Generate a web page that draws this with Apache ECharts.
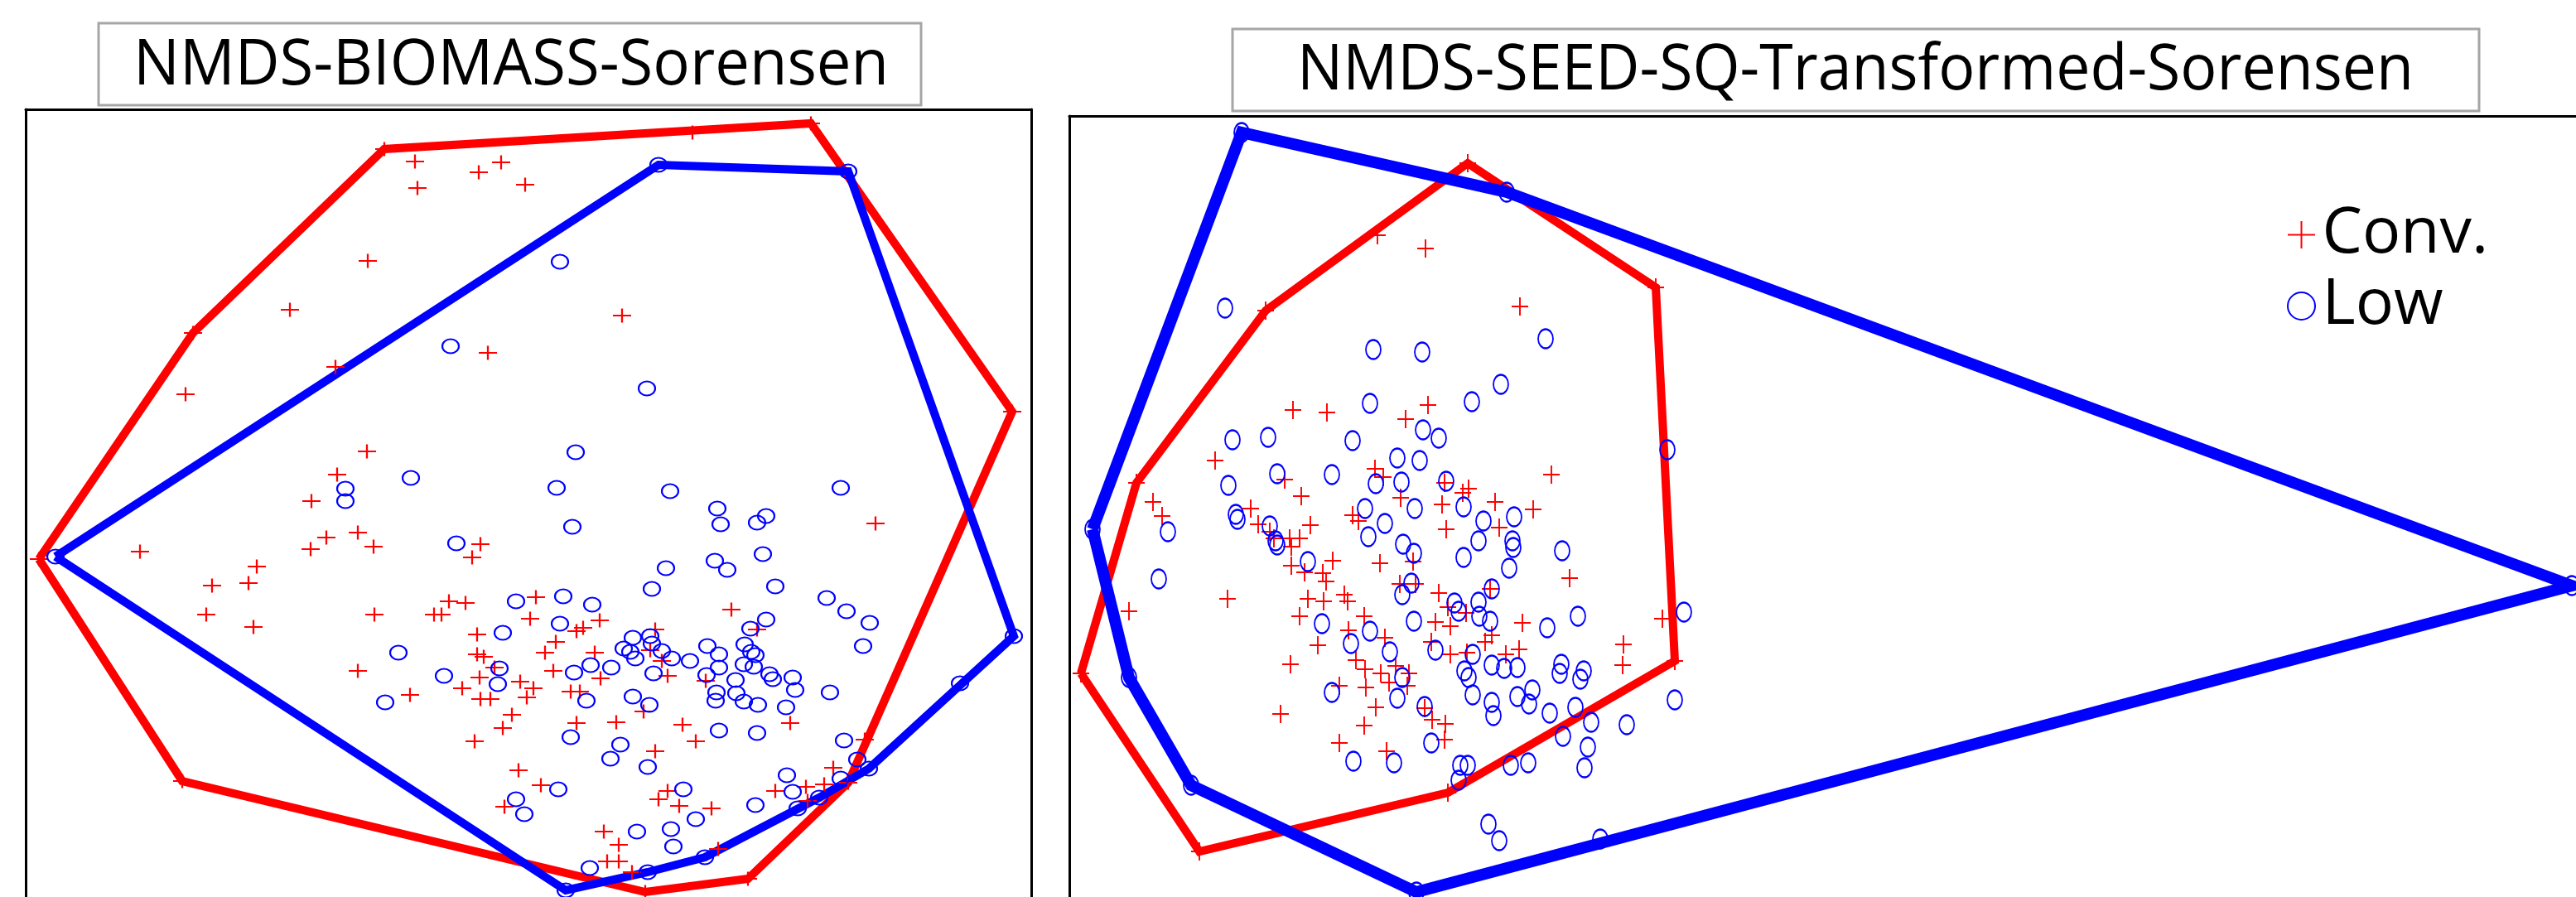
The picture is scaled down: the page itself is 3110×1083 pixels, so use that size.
<!DOCTYPE html>
<html>
<head>
<meta charset="utf-8">
<title>NMDS ordinations</title>
<script src="https://cdn.jsdelivr.net/npm/echarts@6/dist/echarts.min.js"></script>
<style>
  html, body { margin: 0; padding: 0; background: #fff; }
  #chart { width: 3110px; height: 1083px; }
</style>
</head>
<body>
<div id="chart"></div>
<script>
// Panel titles and group names
const titleBiomass = 'NMDS-BIOMASS-Sorensen';
const titleSeed = 'NMDS-SEED-SQ-Transformed-Sorensen';
const groupNames = ['Conv.', 'Low'];

// NMDS scores (axis 1, axis 2) of plots, biomass ordination
const convBiomass = [
  [464,180],[501,195],[605,196],[578,208],[504,227],[634,223],[444,315],[350,374],[233,402],[405,443],
  [224,476],[589,426],[443,545],[407,573],[376,605],[836,160],[979,149],[751,381],[1222,497],[394,649],
  [432,643],[451,660],[375,663],[580,657],[570,673],[169,666],[310,684],[256,707],[300,704],[249,742],
  [306,757],[452,742],[542,726],[562,728],[524,742],[533,742],[640,747],[576,766],[576,790],[584,793],
  [597,806],[432,810],[579,818],[558,831],[495,839],[580,844],[592,844],[628,823],[636,842],[618,863],
  [607,879],[573,895],[626,930],[609,974],[220,943],[47,675],[1057,632],[647,721],[883,736],[696,762],
  [704,758],[724,749],[791,760],[914,760],[671,775],[658,788],[718,788],[785,785],[799,798],[668,810],
  [725,819],[806,816],[852,822],[644,831],[689,835],[700,835],[777,859],[696,873],[744,872],[824,875],
  [954,873],[840,895],[791,907],[653,948],[1044,893],[1006,927],[995,947],[1024,945],[973,950],[936,955],
  [806,955],[795,965],[975,967],[820,973],[859,976],[729,1004],[747,1020],[733,1040],[747,1040],[763,1053],
  [867,1025],[903,1061],[779,1077]
];
const lowBiomass = [
  [795,199],[1024,207],[544,418],[496,577],[417,590],[417,605],[676,316],[781,469],[695,546],[672,589],
  [809,593],[1015,589],[551,656],[623,726],[607,764],[481,788],[603,807],[536,816],[601,826],[465,848],
  [623,965],[633,983],[67,672],[691,636],[866,614],[870,633],[925,623],[914,631],[921,669],[863,677],
  [878,688],[804,686],[787,711],[936,708],[998,722],[1022,738],[1050,752],[1042,780],[680,720],[715,730],
  [676,753],[925,748],[906,759],[764,770],[785,768],[787,777],[753,783],[761,787],[767,795],[799,786],
  [811,795],[833,798],[854,780],[868,790],[899,778],[907,787],[912,791],[713,803],[738,806],[693,812],
  [789,813],[868,806],[898,802],[910,805],[853,815],[929,814],[933,820],[957,818],[960,833],[888,821],
  [865,836],[864,846],[889,837],[898,847],[915,851],[949,854],[1002,836],[764,841],[708,846],[784,851],
  [689,890],[749,899],[737,916],[782,926],[868,882],[914,885],[1019,894],[1035,917],[1049,928],[1015,940],
  [950,936],[957,956],[989,963],[963,976],[912,972],[825,953],[840,989],[674,953],[769,1004],[810,1001],
  [813,1022],[712,1048],[782,1053],[851,1035],[683,1075],[1159,825],[1224,768]
];

// NMDS scores of plots, seed-bank ordination
const convSeed = [
  [1772,197],[1663,284],[1721,300],[1528,375],[1835,370],[1999,347],[1561,495],[1602,498],[1724,489],[1697,506],
  [1467,556],[1372,583],[1660,566],[1670,576],[1551,579],[1571,599],[1744,583],[1773,590],[1766,595],[1691,601],
  [1741,609],[1805,606],[1392,606],[1403,623],[1510,614],[1519,633],[1533,642],[1633,622],[1640,629],[1582,634],
  [1746,639],[1538,650],[1557,650],[1569,650],[1559,660],[1609,677],[1559,683],[1575,691],[1597,692],[1601,702],
  [1666,680],[1706,678],[1690,705],[1709,705],[1810,637],[1873,573],[1851,615],[1895,698],[1482,723],[1363,738],
  [1579,723],[1598,726],[1623,718],[1627,726],[1569,744],[1647,744],[1628,761],[1591,779],[1672,770],[1558,802],
  [1637,797],[1648,808],[1667,813],[1685,804],[1701,813],[1677,824],[1699,828],[1617,828],[1649,830],[1661,854],
  [1546,862],[1647,876],[1617,897],[1674,907],[1720,855],[1729,869],[1745,874],[1744,893],[1737,716],[1748,733],
  [1733,751],[1751,756],[1770,740],[1728,775],[1751,790],[1771,788],[1793,775],[1801,767],[1799,711],[1838,752],
  [1834,784],[1818,790],[1960,778],[1959,803],[2007,747],[1305,813],[1448,1028],[1748,957],[2022,798]
];
const lowSeed = [
  [1499,160],[1819,232],[3105,707],[1710,1077],[1438,948],[1363,818],[1319,639],[1479,372],[1658,422],[1717,425],
  [1866,409],[1812,464],[1654,487],[1777,485],[1488,531],[1531,528],[1633,532],[1718,519],[1737,529],[1687,553],
  [1714,556],[2013,543],[1542,572],[1608,573],[1661,584],[1692,582],[1746,581],[1483,586],[1648,614],[1708,614],
  [1767,612],[1492,621],[1494,627],[1533,635],[1672,632],[1791,629],[1828,624],[1410,642],[1652,648],[1540,653],
  [1542,658],[1694,657],[1707,668],[1785,653],[1767,673],[1579,678],[1826,653],[1827,661],[1886,665],[1822,686],
  [1399,699],[1704,704],[1801,711],[1596,753],[1654,762],[1631,777],[1678,787],[1693,818],[1608,836],[1687,843],
  [1707,750],[1693,718],[1720,853],[1728,897],[1634,919],[1683,921],[1733,785],[1756,728],[1761,738],[1785,727],
  [1786,744],[1799,750],[1778,790],[1768,810],[1773,818],[1778,839],[1801,848],[1803,864],[1801,803],[1763,924],
  [1772,924],[1761,942],[1797,995],[1810,1015],[1868,758],[1905,744],[2033,739],[1816,807],[1832,806],[1885,802],
  [1883,813],[1912,810],[1908,820],[1832,841],[1850,833],[1846,850],[1871,861],[1902,854],[1921,872],[1964,875],
  [2022,845],[1887,889],[1917,902],[1913,927],[1824,924],[1845,921],[1932,1013]
];

// Convex hull (monotone chain), returned closed so the line series draws a polygon
function convexHull(points) {
  const p = points.slice().sort((a, b) => a[0] - b[0] || a[1] - b[1]);
  const cross = (o, a, b) => (a[0] - o[0]) * (b[1] - o[1]) - (a[1] - o[1]) * (b[0] - o[0]);
  const lower = [];
  for (const q of p) {
    while (lower.length >= 2 && cross(lower[lower.length - 2], lower[lower.length - 1], q) <= 0) lower.pop();
    lower.push(q);
  }
  const upper = [];
  for (let i = p.length - 1; i >= 0; i--) {
    const q = p[i];
    while (upper.length >= 2 && cross(upper[upper.length - 2], upper[upper.length - 1], q) <= 0) upper.pop();
    upper.push(q);
  }
  lower.pop(); upper.pop();
  const h = lower.concat(upper);
  h.push(h[0]);
  return h;
}

const RED = '#ff0000';
const BLUE = '#0000ff';
const PLUS = 'path://M0,1L2,1M1,0L1,2';
const RING = 'path://M1,0A1,1,0,1,1,-1,0A1,1,0,1,1,1,0Z';
const FONT = '"Open Sans", "Noto Sans", sans-serif';

// Condense title text horizontally to the width of its box
const measureCtx = document.createElement('canvas').getContext('2d');
function textWidth(text, size) {
  measureCtx.font = size + 'px ' + FONT;
  return measureCtx.measureText(text).width;
}
function titleGraphic(text, box, textLeft, textRight, midY, size) {
  const s = (textRight - textLeft) / textWidth(text, size);
  return [
    { type: 'rect', shape: box, style: { fill: '#fff', stroke: '#a6a6a6', lineWidth: 3 }, z: 10 },
    { type: 'text', x: textLeft, y: midY, scaleX: s, z: 11,
      style: { text: text, fontSize: size, fontFamily: FONT, fill: '#000', align: 'left', verticalAlign: 'middle' } }
  ];
}

function scatter(name, data, idx, symbol, size, color) {
  return {
    type: 'scatter', name: name, data: data, xAxisIndex: idx, yAxisIndex: idx,
    symbol: symbol, symbolSize: size, z: 4, silent: true,
    itemStyle: { color: 'rgba(0,0,0,0)', borderColor: color, borderWidth: 2, opacity: 1 }
  };
}
function hullLine(name, data, idx, color, width, z) {
  return {
    type: 'line', name: name, data: convexHull(data), xAxisIndex: idx, yAxisIndex: idx,
    symbol: 'none', z: z, silent: true, clip: false,
    lineStyle: { color: color, width: width, join: 'miter', miterLimit: 4 }
  };
}

// Axes carry only the black frame lines of each panel
const frameLine = { show: true, onZero: false, lineStyle: { color: '#000', width: 3 } };
function frameAxis(extra) {
  return Object.assign({
    type: 'value', axisLine: frameLine, axisTick: { show: false },
    axisLabel: { show: false }, splitLine: { show: false }
  }, extra);
}

const chart = echarts.init(document.getElementById('chart'), null, { renderer: 'canvas' });
chart.setOption({
  animation: false,
  backgroundColor: '#ffffff',
  grid: [
    { left: 31, top: 132, width: 1214, bottom: 0 },
    { left: 1291, top: 140, right: 0, bottom: 0 }
  ],
  xAxis: [
    frameAxis({ gridIndex: 0, position: 'top', min: 31, max: 1245 }),
    frameAxis({ gridIndex: 1, position: 'top', min: 1291, max: 3110 })
  ],
  yAxis: [
    frameAxis({ gridIndex: 0, position: 'left', min: 132, max: 1083, inverse: true }),
    frameAxis({ gridIndex: 1, position: 'left', min: 140, max: 1083, inverse: true }),
    frameAxis({ gridIndex: 0, position: 'right', min: 132, max: 1083, inverse: true })
  ],
  legend: {
    orient: 'vertical', left: 2756, top: 240, itemWidth: 40, itemHeight: 33, itemGap: 9,
    selectedMode: false,
    textStyle: { fontSize: 77, fontFamily: FONT, color: '#000', lineHeight: 70 },
    data: [
      { name: groupNames[0], icon: PLUS, itemStyle: { color: 'rgba(0,0,0,0)', borderColor: RED, borderWidth: 2 } },
      { name: groupNames[1], icon: RING, itemStyle: { color: 'rgba(0,0,0,0)', borderColor: BLUE, borderWidth: 2 } }
    ]
  },
  graphic: [].concat(
    titleGraphic(titleBiomass, { x: 119, y: 28, width: 993, height: 99 }, 161, 1073, 80, 77),
    titleGraphic(titleSeed, { x: 1488, y: 35, width: 1505, height: 99 }, 1566, 2914, 86, 76)
  ),
  series: [
    hullLine('Conv. hull', convBiomass, 0, RED, 10, 2),
    hullLine('Low hull', lowBiomass, 0, BLUE, 10, 3),
    scatter(groupNames[0], convBiomass, 0, PLUS, [22, 17], RED),
    scatter(groupNames[1], lowBiomass, 0, RING, [20, 17], BLUE),
    hullLine('Conv. hull', convSeed, 1, RED, 10, 2),
    hullLine('Low hull', lowSeed, 1, BLUE, 14, 3),
    scatter(groupNames[0], convSeed, 1, PLUS, [20, 22], RED),
    scatter(groupNames[1], lowSeed, 1, RING, [18, 23], BLUE)
  ]
});
</script>
</body>
</html>
